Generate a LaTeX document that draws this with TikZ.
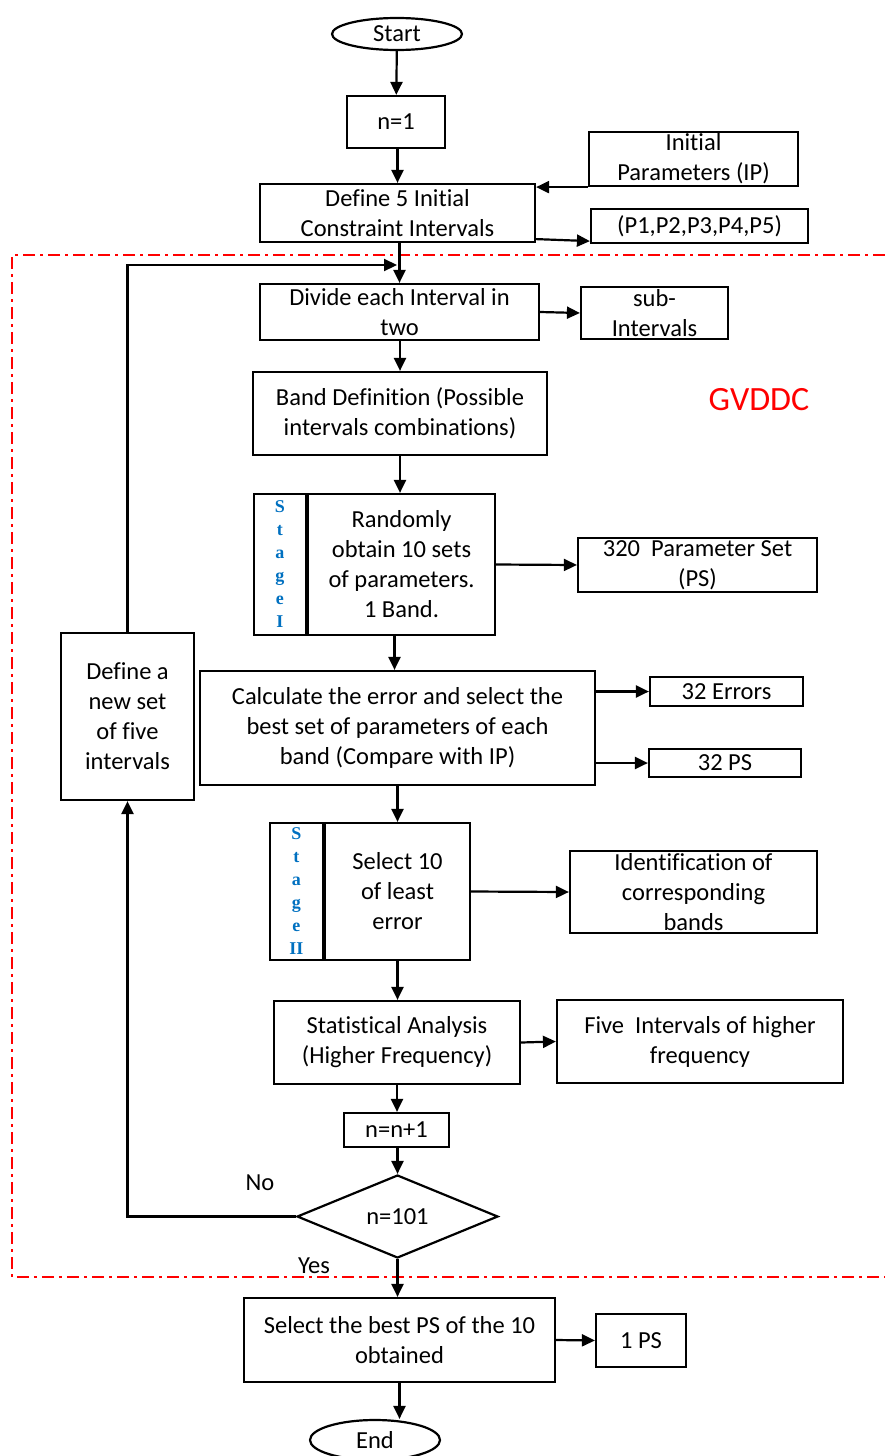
\documentclass[tikz,border=0pt]{standalone}
\usepackage{fontspec}
\setmainfont{Carlito}[Ligatures={NoCommon}]
\newfontfamily\stagefont{Liberation Serif}
\usetikzlibrary{arrows.meta,shapes.geometric}
\definecolor{stageblue}{RGB}{0,112,192}
\begin{document}
\begin{tikzpicture}[x=1pt,y=-1pt,
 box/.style={draw,line width=2.2pt,inner sep=0pt,align=center,font=\fontsize{24.5}{30}\selectfont},
 arr/.style={line width=2.2pt,-{Triangle[length=13pt,width=12pt]}},
 stagebox/.style={draw,line width=2.2pt,inner sep=0pt,align=center,text=stageblue,font=\stagefont\bfseries\fontsize{18}{23}\selectfont},
 lbl/.style={inner sep=0pt,font=\fontsize{24.5}{30}\selectfont},
 region/.style={draw=red,line width=2pt,dash pattern=on 12pt off 5pt on 3pt off 5pt}]
\useasboundingbox (0,0) rectangle (885,1456);
\draw[region] (885,255) -- (12,255) -- (12,1277) -- (885,1277);

\node[box,ellipse,minimum width=130pt,minimum height=32pt] (start) at (397,34) {Start};
\node[box,minimum width=98pt,minimum height=52pt] (n1) at (396,122) {n=1};
\node[box,minimum width=275pt,minimum height=58pt] (def) at (397.5,213) {Define 5 Initial\\Constraint Intervals};
\node[box,minimum width=209pt,minimum height=54pt] (ip) at (693.5,159) {Initial\\Parameters (IP)};
\node[box,minimum width=217pt,minimum height=34pt] (pp) at (699.5,226) {(P1,P2,P3,P4,P5)};
\node[box,minimum width=279pt,minimum height=56pt] (div) at (399.5,312) {Divide each Interval in\\two};
\node[box,minimum width=147pt,minimum height=52pt] (sub) at (654.5,313) {sub-\\Intervals};
\node[box,minimum width=294pt,minimum height=83pt] (band) at (400,413.5) {Band Definition (Possible\\intervals combinations)};
\node[text=red,inner sep=0pt,font=\fontsize{34}{40}\selectfont] (gv) at (759,400) {GVDDC};
\node[box,minimum width=187pt,minimum height=141pt] (s1) at (401.5,564.5) {Randomly\\obtain 10 sets\\of parameters.\\1 Band.};
\node[stagebox,minimum width=52pt,minimum height=141pt,anchor=east] (s1tag) at (s1.west) {S\\t\\a\\g\\e\\I};
\node[box,minimum width=239pt,minimum height=54pt] (ps320) at (697.5,565) {320\ \ Parameter Set\\(PS)};
\node[box,minimum width=395pt,minimum height=114pt] (calc) at (397.5,728) {Calculate the error and select the\\best set of parameters of each\\band (Compare with IP)};
\node[box,minimum width=153pt,minimum height=29pt] (err) at (726.5,691.5) {32 Errors};
\node[box,minimum width=152pt,minimum height=28pt] (ps32) at (725,763) {32 PS};
\node[box,minimum width=145pt,minimum height=137pt] (s2) at (397.5,891.5) {Select 10\\of least\\error};
\node[stagebox,minimum width=53pt,minimum height=137pt,anchor=east] (s2tag) at (s2.west) {S\\t\\a\\g\\e\\II};
\node[box,minimum width=247pt,minimum height=82pt] (ident) at (693.5,892) {Identification of\\corresponding\\bands};
\node[box,minimum width=246pt,minimum height=83pt] (stat) at (397,1042.5) {Statistical Analysis\\(Higher Frequency)};
\node[box,minimum width=286pt,minimum height=83pt] (five) at (700,1041.5) {Five\ \ Intervals of higher\\frequency};
\node[box,minimum width=105pt,minimum height=34pt] (nn) at (396.5,1130) {n=n+1};
\node[box,diamond,aspect=2.4,minimum width=201pt,minimum height=83pt] (dec) at (397.5,1216.5) {n=101};
\node[box,minimum width=133pt,minimum height=167pt] (newset) at (127.5,716.5) {Define a\\new set\\of five\\intervals};
\node[box,minimum width=311pt,minimum height=84pt] (best) at (399.5,1340) {Select the best PS of the 10\\obtained};
\node[box,minimum width=90pt,minimum height=53pt] (ps1) at (641,1340.5) {1 PS};
\node[box,ellipse,minimum width=130pt,minimum height=40pt] (end) at (375,1440) {End};
\node[lbl] (no) at (260,1183) {No};
\node[lbl] (yes) at (314,1266) {Yes};
\coordinate (loop) at (397,265);

\draw[arr] (start) -- (n1);
\draw[arr] (n1.south -| def.north) -- (def.north);
\draw[arr] (ip.south west) -- (def.east |- ip.south west);
\draw[arr] ([yshift=4pt]def.south east) -- ([yshift=3pt]pp.south west);
\draw[arr] (def.south -| div.north) -- (div.north);
\draw[arr] (newset.north) |- (loop);
\draw[arr] (div.east) -- (sub.west);
\draw[arr] (div.south -| band.north) -- (band.north);
\draw[arr] (band.south) -- (band.south |- s1.north);
\draw[arr] (s1.east) -- (ps320.west);
\draw[arr] ([xshift=-7pt]s1.south) -- ([xshift=-7pt]s1.south |- calc.north);
\draw[arr] (calc.east |- err.west) -- (err.west);
\draw[arr] (calc.east |- ps32.west) -- (ps32.west);
\draw[arr] (calc.south) -- (calc.south |- s2.north);
\draw[arr] (s2.east) -- (ident.west);
\draw[arr] (s2.south) -- (s2.south |- stat.north);
\draw[arr] (stat.east) -- (five.west);
\draw[arr] (stat.south) -- (stat.south |- nn.north);
\draw[arr] (nn.south -| dec.north) -- (dec.north);
\draw[arr] (dec.west) -| (newset.south);
\draw[arr] (dec.south) -- (dec.south |- best.north);
\draw[arr] (best.east) -- (ps1.west);
\draw[arr] (best.south) -- (best.south |- end.north);
\end{tikzpicture}
\end{document}
